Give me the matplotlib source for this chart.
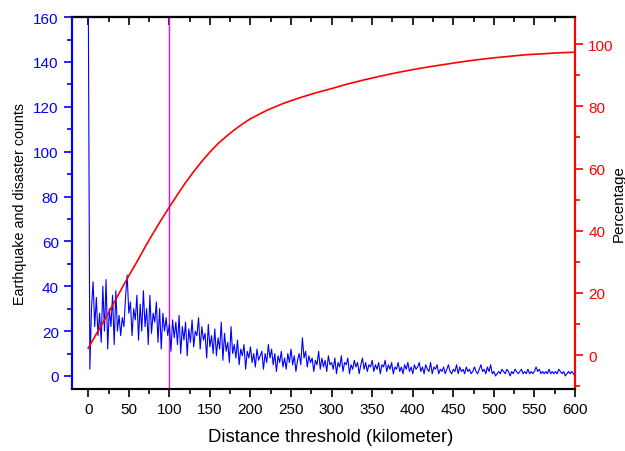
import numpy as np
import matplotlib
matplotlib.use("Agg")
import matplotlib.pyplot as plt
from matplotlib.ticker import MultipleLocator

plt.rcParams['font.family'] = ['Liberation Sans', 'DejaVu Sans']

# Distance (km), 2 km step
distance = list(range(0, 601, 2))
counts = [
    175, 3, 30, 42, 22, 35, 18, 28, 15, 40,
    20, 43, 12, 30, 22, 36, 14, 38, 20, 27,
    18, 26, 22, 35, 45, 28, 33, 18, 30, 25,
    36, 16, 32, 20, 38, 22, 30, 14, 36, 19,
    28, 24, 33, 15, 30, 12, 28, 20, 26, 18,
    23, 11, 25, 17, 24, 14, 27, 10, 22, 16,
    24, 9, 21, 15, 25, 13, 20, 18, 26, 12,
    22, 16, 19, 8, 23, 13, 18, 10, 21, 9,
    17, 12, 24, 7, 19, 11, 15, 6, 22, 10,
    14, 8, 16, 5, 12, 9, 14, 3, 11, 8,
    13, 6, 10, 4, 12, 7, 9, 11, 3, 10,
    6, 14, 8, 12, 5, 10, 2, 9, 6, 11,
    4, 8, 3, 10, 6, 12, 5, 9, 2, 7,
    10, 5, 17, 8, 11, 4, 9, 6, 8, 2,
    7, 5, 11, 3, 8, 4, 7, 2, 9, 5,
    6, 3, 8, 1, 6, 4, 9, 2, 6, 5,
    8, 1, 5, 3, 7, 4, 6, 1, 5, 8,
    3, 6, 2, 5, 4, 7, 2, 5, 3, 6,
    1, 5, 4, 7, 2, 5, 3, 6, 1, 4,
    3, 6, 2, 4, 1, 5, 3, 6, 2, 4,
    1, 5, 3, 4, 6, 2, 4, 1, 5, 3,
    2, 6, 1, 4, 3, 5, 1, 3, 2, 4,
    1, 3, 5, 2, 1, 3, 2, 5, 1, 4,
    2, 3, 1, 4, 2, 3, 1, 2, 4, 2,
    1, 3, 5, 2, 3, 1, 4, 2, 5, 1,
    2, 0, 1, 2, 1, 3, 2, 1, 3, 2,
    0, 2, 1, 3, 2, 1, 2, 3, 1, 2,
    1, 3, 1, 2, 1, 2, 4, 2, 3, 1,
    2, 1, 2, 1, 3, 1, 2, 1, 2, 1,
    3, 2, 1, 2, 0, 1, 2, 1, 2, 1,
    0,
]

# Cumulative percentage
pct_x = [0, 10, 20, 30, 40, 50, 60, 70, 80, 90, 100, 110, 120, 130, 140,
         150, 160, 170, 180, 190, 200, 220, 240, 260, 280, 300, 320, 340,
         360, 380, 400, 420, 440, 460, 480, 500, 520, 540, 560, 580, 600]
pct_y = [2.2, 6.8, 11.3, 16, 20.8, 25.5, 30, 34.7, 39.2, 43.5, 47.6, 51.6,
         55.5, 59, 62.3, 65.3, 68, 70.3, 72.4, 74.3, 76, 78.7, 80.9, 82.7,
         84.3, 85.7, 87.2, 88.5, 89.7, 90.8, 91.8, 92.7, 93.5, 94.3, 95,
         95.6, 96.1, 96.6, 96.9, 97.2, 97.4]

threshold = 100

fig = plt.figure(figsize=(6.25, 4.52), dpi=100)
ax = fig.add_axes([0.1152, 0.1372, 0.8048, 0.8228])
ax.plot(distance, counts, color='#0000FF', lw=0.8, zorder=3)
ax.axvline(threshold, color='#FF00FF', lw=1.0, zorder=2)
ax.set_xlim(-20, 600)
ax.set_ylim(-5.8, 160)

ax2 = ax.twinx()
ax2.plot(pct_x, pct_y, color='#FF0000', lw=1.2, zorder=3)
ax2.set_ylim(-10.9, 108.7)

# x axis (bottom, outward)
ax.xaxis.set_major_locator(MultipleLocator(50))
ax.xaxis.set_minor_locator(MultipleLocator(25))
ax.tick_params(axis='x', which='both', direction='out', top=False, colors='black',
               labelsize=11)
ax.tick_params(axis='x', which='major', length=6, width=1.2)
ax.tick_params(axis='x', which='minor', length=3.5, width=1.2)
ax.set_xlabel('Distance threshold (kilometer)', fontsize=13.3)
ax.xaxis.set_label_coords(0.515, -0.105)

# top ticks (inward, no labels)
top = ax.secondary_xaxis('top')
top.xaxis.set_major_locator(MultipleLocator(50))
top.xaxis.set_minor_locator(MultipleLocator(25))
top.tick_params(axis='x', which='both', direction='in', labeltop=False, colors='black')
top.tick_params(axis='x', which='major', length=6, width=1.2)
top.tick_params(axis='x', which='minor', length=3.5, width=1.2)
top.spines['top'].set_linewidth(1.5)

# left y
ax.yaxis.set_major_locator(MultipleLocator(20))
ax.yaxis.set_minor_locator(MultipleLocator(10))
ax.tick_params(axis='y', which='both', direction='out', colors='#0000FF',
               labelsize=11)
ax.tick_params(axis='y', which='major', length=6, width=1.2)
ax.tick_params(axis='y', which='minor', length=3.5, width=1.2)
ax.set_ylabel('Earthquake and disaster counts', fontsize=10.3, color='black')
ax.yaxis.set_label_coords(-0.09, 0.5)

# right y
ax2.yaxis.set_major_locator(MultipleLocator(20))
ax2.yaxis.set_minor_locator(MultipleLocator(10))
ax2.tick_params(axis='y', which='both', direction='out', colors='#FF0000',
                labelsize=11)
ax2.tick_params(axis='y', which='major', length=6, width=1.2)
ax2.tick_params(axis='y', which='minor', length=3.5, width=1.2)
ax2.set_ylabel('Percentage', fontsize=10.8, color='black')
ax2.yaxis.set_label_coords(1.0725, 0.5)

for a in (ax, ax2):
    a.spines['left'].set_color('#0000FF')
    a.spines['right'].set_color('#FF0000')
    a.spines['top'].set_color('black')
    a.spines['bottom'].set_color('black')
    for s in a.spines.values():
        s.set_linewidth(1.5)

fig.savefig('out.png', dpi=100)
